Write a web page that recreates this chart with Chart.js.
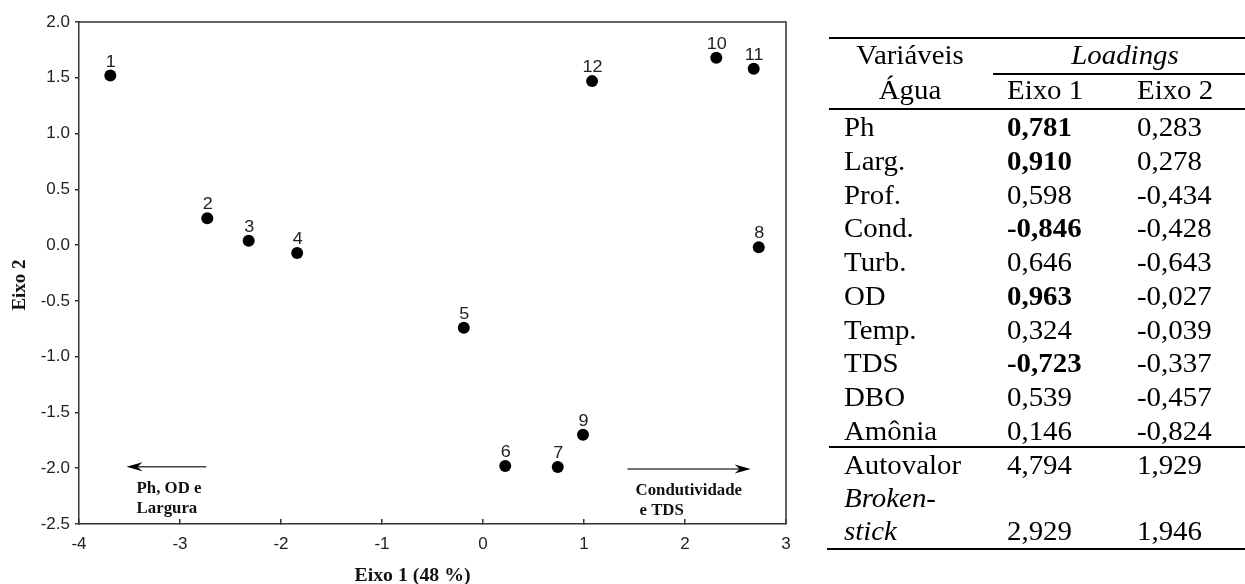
<!DOCTYPE html>
<html lang="pt">
<head>
<meta charset="utf-8">
<title>PCA – variáveis da água</title>
<script src="https://cdn.jsdelivr.net/npm/chart.js@4/dist/chart.umd.min.js"></script>
<style>
  html, body { margin: 0; padding: 0; background: #fff; }
  #wrap { position: relative; width: 1245px; height: 584px; overflow: hidden; }
  #pca { position: absolute; left: 0; top: 0; }
  #tbl { position: absolute; left: 0; top: 0; width: 1245px; height: 584px; pointer-events: none; }
  .cell { position: absolute; white-space: nowrap; font-family: "Liberation Serif", "Times New Roman", serif;
          font-size: 27px; line-height: 27px; color: #000; transform-origin: 0 0; }
  .rule { position: absolute; height: 2px; background: #000; }
</style>
</head>
<body>
<div id="wrap">
  <canvas id="pca" width="800" height="584"></canvas>
  <div id="tbl"></div>
</div>
<script>
// Site scores on the first two PCA axes
const siteLabels = ['1', '2', '3', '4', '5', '6', '7', '8', '9', '10', '11', '12'];
const eixo1Scores = [-3.69, -2.73, -2.32, -1.84, -0.19, 0.22, 0.74, 2.73, 0.99, 2.31, 2.68, 1.08];
const eixo2Scores = [1.52, 0.24, 0.04, -0.07, -0.74, -1.98, -1.99, -0.02, -1.70, 1.68, 1.58, 1.47];

// Axis tick labels
const xTickValues = [-4, -3, -2, -1, 0, 1, 2, 3];
const xTickLabels = ['-4', '-3', '-2', '-1', '0', '1', '2', '3'];
const yTickValues = [-2.5, -2, -1.5, -1, -0.5, 0, 0.5, 1, 1.5, 2];
const yTickLabels = ['-2.5', '-2.0', '-1.5', '-1.0', '-0.5', '0.0', '0.5', '1.0', '1.5', '2.0'];

// Loadings table
const waterVars = ['Ph', 'Larg.', 'Prof.', 'Cond.', 'Turb.', 'OD', 'Temp.', 'TDS', 'DBO', 'Amônia'];
const loadEixo1 = ['0,781', '0,910', '0,598', '-0,846', '0,646', '0,963', '0,324', '-0,723', '0,539', '0,146'];
const loadEixo2 = ['0,283', '0,278', '-0,434', '-0,428', '-0,643', '-0,027', '-0,039', '-0,337', '-0,457', '-0,824'];
const boldEixo1 = [true, true, false, true, false, true, false, true, false, false];
const autovalor = ['4,794', '1,929'];
const brokenStick = ['2,929', '1,946'];

// Direction arrows and their captions (data units)
const arrowNotes = [
  { from: [-2.74, -1.986], to: [-3.53, -1.986], lines: ['Ph, OD e', 'Largura'], textX: -3.43, indent: [0, 0] },
  { from: [1.43, -2.006], to: [2.65, -2.006], lines: ['Condutividade', 'e TDS'], textX: 1.51, indent: [0, 4] }
];

const SANS = '"Liberation Sans", Arial, sans-serif';
const SERIF = '"Liberation Serif", "Times New Roman", serif';

const points = eixo1Scores.map((x, i) => ({ x, y: eixo2Scores[i] }));

const decorPlugin = {
  id: 'decor',
  afterDatasetsDraw(chart) {
    const { ctx, chartArea: a, scales: { x, y } } = chart;
    ctx.save();
    // frame on top and right
    ctx.strokeStyle = '#333';
    ctx.lineWidth = 1.5;
    ctx.beginPath();
    ctx.moveTo(a.left, a.top);
    ctx.lineTo(a.right, a.top);
    ctx.lineTo(a.right, a.bottom);
    ctx.stroke();

    // site numbers above each point
    ctx.fillStyle = '#222';
    ctx.font = '17px ' + SANS;
    ctx.textAlign = 'center';
    ctx.textBaseline = 'alphabetic';
    chart.getDatasetMeta(0).data.forEach((el, i) => {
      ctx.save();
      ctx.translate(el.x + 0.5, el.y - 9);
      ctx.scale(1.06, 1);
      ctx.fillText(siteLabels[i], 0, 0);
      ctx.restore();
    });

    // arrows with captions
    arrowNotes.forEach(n => {
      const x0 = x.getPixelForValue(n.from[0]), y0 = y.getPixelForValue(n.from[1]);
      const x1 = x.getPixelForValue(n.to[0]), y1 = y.getPixelForValue(n.to[1]);
      const dir = Math.sign(x1 - x0);
      ctx.strokeStyle = '#444';
      ctx.lineWidth = 1.5;
      ctx.beginPath();
      ctx.moveTo(x0, y0);
      ctx.lineTo(x1 - dir * 8, y1);
      ctx.stroke();
      ctx.fillStyle = '#000';
      ctx.beginPath();
      ctx.moveTo(x1, y1);
      ctx.lineTo(x1 - dir * 16, y1 - 4.5);
      ctx.lineTo(x1 - dir * 11, y1);
      ctx.lineTo(x1 - dir * 16, y1 + 4.5);
      ctx.closePath();
      ctx.fill();
      ctx.fillStyle = '#111';
      ctx.font = 'bold 16px ' + SERIF;
      ctx.textAlign = 'left';
      const tx = x.getPixelForValue(n.textX);
      n.lines.forEach((t, k) => {
        ctx.save();
        ctx.translate(tx + n.indent[k], y0 + 26 + k * 20);
        ctx.scale(1.05, 1);
        ctx.fillText(t, 0, 0);
        ctx.restore();
      });
    });

    // axis titles
    ctx.fillStyle = '#111';
    ctx.font = 'bold 18px ' + SERIF;
    ctx.textAlign = 'center';
    ctx.save();
    ctx.translate((a.left + a.right) / 2 - 20, 581);
    ctx.scale(1.1, 1);
    ctx.fillText('Eixo 1 (48 %)', 0, 0);
    ctx.restore();
    ctx.save();
    ctx.translate(25, 285);
    ctx.rotate(-Math.PI / 2);
    ctx.font = 'bold 19px ' + SERIF;
    ctx.fillText('Eixo 2', 0, 0);
    ctx.restore();
    ctx.restore();
  }
};

new Chart(document.getElementById('pca'), {
  type: 'scatter',
  data: {
    datasets: [{
      data: points,
      backgroundColor: '#000',
      borderColor: '#000',
      borderWidth: 0,
      pointRadius: 6,
      pointHoverRadius: 6
    }]
  },
  options: {
    responsive: false,
    devicePixelRatio: 1,
    animation: false,
    events: [],
    layout: { autoPadding: false, padding: { left: 0, top: 22, right: 14, bottom: 0 } },
    plugins: { legend: { display: false }, tooltip: { enabled: false } },
    scales: {
      x: {
        type: 'linear',
        min: -4, max: 3,
        afterBuildTicks: s => { s.ticks = xTickValues.map(v => ({ value: v })); },
        afterFit: s => { s.height = 60; s.paddingLeft = 0; s.paddingRight = 0; },
        ticks: {
          callback: v => xTickLabels[xTickValues.indexOf(v)],
          color: '#222',
          font: { family: SANS, size: 17 },
          padding: 15,
          maxRotation: 0
        },
        grid: { drawOnChartArea: false, drawTicks: true, tickLength: -5, color: '#333', lineWidth: 1.5 },
        border: { display: true, color: '#333', width: 1.5 }
      },
      y: {
        type: 'linear',
        min: -2.5, max: 2,
        afterBuildTicks: s => { s.ticks = yTickValues.map(v => ({ value: v })); },
        afterFit: s => { s.width = 79; s.paddingTop = 0; s.paddingBottom = 0; },
        ticks: {
          callback: v => yTickLabels[yTickValues.indexOf(v)],
          color: '#222',
          font: { family: SANS, size: 17 },
          padding: 5
        },
        grid: { drawOnChartArea: false, drawTicks: true, tickLength: 4, color: '#333', lineWidth: 1.5 },
        border: { display: true, color: '#333', width: 1.5 }
      }
    }
  },
  plugins: [decorPlugin]
});

// Loadings table
const tbl = document.getElementById('tbl');
const SX = 1.07;            // glyph width factor
const ASC = 0.8375 * 27;    // baseline offset inside a 27px line box

function cell(text, x, baseline, opts = {}) {
  const s = document.createElement('span');
  s.className = 'cell';
  s.textContent = text;
  s.style.left = x + 'px';
  s.style.top = (baseline - ASC) + 'px';
  if (opts.bold) s.style.fontWeight = 'bold';
  if (opts.italic) s.style.fontStyle = 'italic';
  s.style.transform = opts.center ? `scaleX(${SX}) translateX(-50%)` : `scaleX(${SX})`;
  tbl.appendChild(s);
}
function rule(x0, x1, y) {
  const d = document.createElement('div');
  d.className = 'rule';
  d.style.left = x0 + 'px';
  d.style.width = (x1 - x0) + 'px';
  d.style.top = (y - 1) + 'px';
  tbl.appendChild(d);
}

const colVar = 844, colE1 = 1007, colE2 = 1137;
rule(829, 1245, 38);
cell('Variáveis', 910, 65, { center: true });
cell('Loadings', 1125, 65, { center: true, italic: true });
rule(993, 1245, 74);
cell('Água', 910, 100, { center: true });
cell('Eixo 1', colE1, 100);
cell('Eixo 2', colE2, 100);
rule(829, 1245, 109);

const rowPitch = 33.7;
waterVars.forEach((v, i) => {
  const b = 137 + i * rowPitch;
  cell(v, colVar, b);
  cell(loadEixo1[i], colE1, b, { bold: boldEixo1[i] });
  cell(loadEixo2[i], colE2, b);
});
rule(829, 1245, 447);
cell('Autovalor', colVar, 475);
cell(autovalor[0], colE1, 475);
cell(autovalor[1], colE2, 475);
cell('Broken-', colVar, 508, { italic: true });
cell('stick', colVar, 541, { italic: true });
cell(brokenStick[0], colE1, 541);
cell(brokenStick[1], colE2, 541);
rule(827, 1245, 549);
</script>
</body>
</html>
